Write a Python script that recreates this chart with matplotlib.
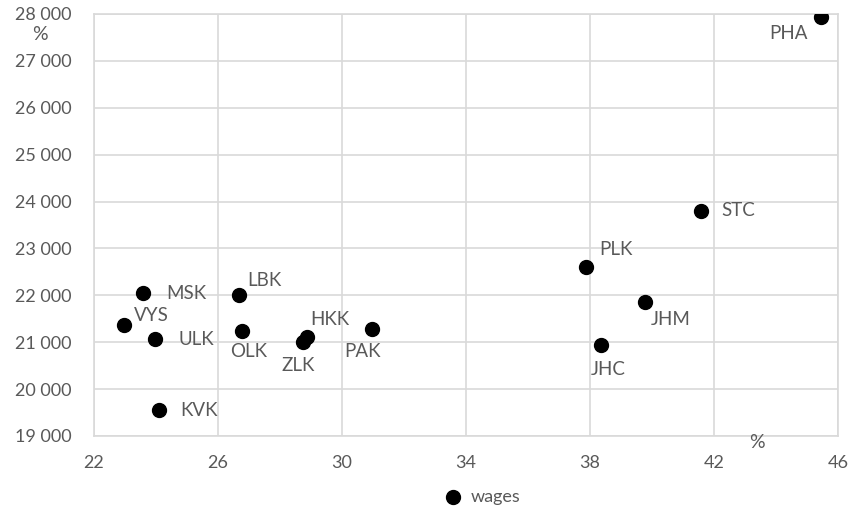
import matplotlib.pyplot as plt
from matplotlib.ticker import FuncFormatter

# regions: share (%) vs average wage
regions = ['PHA', 'STC', 'PLK', 'JHM', 'JHC', 'MSK', 'LBK', 'VYS', 'ULK',
           'OLK', 'HKK', 'ZLK', 'PAK', 'KVK']
share = [45.44, 41.57, 37.87, 39.78, 38.37, 23.59, 26.69, 22.96, 23.97,
         26.76, 28.88, 28.75, 30.97, 24.09]
wages = [27930, 23800, 22600, 21850, 20940, 22040, 22010, 21370, 21060,
         21230, 21110, 21010, 21290, 19550]

# label offsets in pixels (dx, dy), ha
offsets = {
    'PHA': (-13, -16, 'right'), 'STC': (21, 0, 'left'), 'PLK': (13, 18, 'left'),
    'JHM': (6, -17, 'left'), 'JHC': (7, -24, 'center'), 'MSK': (23, 0, 'left'),
    'LBK': (8, 14, 'left'), 'VYS': (10, 9, 'left'), 'ULK': (23, 0, 'left'),
    'OLK': (7, -20, 'center'), 'HKK': (3, 18, 'left'), 'ZLK': (-5, -24, 'center'),
    'PAK': (-10, -23, 'center'), 'KVK': (21, 0, 'left'),
}

plt.rcParams['font.family'] = ['Lato', 'DejaVu Sans']
txt = '#595959'
grid = '#d9d9d9'

fig = plt.figure(figsize=(8.5, 5.12), dpi=100)
ax = fig.add_axes([94 / 850, 1 - 436 / 512, 744 / 850, 422 / 512])

ax.scatter(share, wages, s=100, color='black', zorder=3, label='wages')
for r, x, y in zip(regions, share, wages):
    dx, dy, ha = offsets[r]
    ax.annotate(r, (x, y), xytext=(dx, dy), textcoords='offset pixels',
                ha=ha, va='center', fontsize=13.5, color=txt)

ax.set_xlim(22, 46)
ax.set_ylim(19000, 28000)
ax.set_xticks(range(22, 47, 4))
ax.set_yticks(range(19000, 28001, 1000))
ax.yaxis.set_major_formatter(FuncFormatter(lambda v, p: f'{int(v):,}'.replace(',', ' ')))
ax.grid(True, color=grid, linewidth=1.2)
ax.set_axisbelow(True)
for s in ax.spines.values():
    s.set_color(grid)
    s.set_linewidth(1.2)
ax.tick_params(length=0, labelsize=13, colors=txt)
ax.tick_params(axis='y', pad=16)
ax.tick_params(axis='x', pad=14)

fig.text(40 / 850, 1 - 35 / 512, '%', fontsize=14, color=txt, ha='center', va='center')
fig.text(757 / 850, 1 - 443 / 512, '%', fontsize=14, color=txt, ha='center', va='center')

ax.legend(loc='center', bbox_to_anchor=(478 / 850, 1 - 497 / 512),
          bbox_transform=fig.transFigure, frameon=False, fontsize=13,
          labelcolor=txt, handletextpad=0.0, markerscale=1.0)

fig.savefig('out.png', dpi=100)
